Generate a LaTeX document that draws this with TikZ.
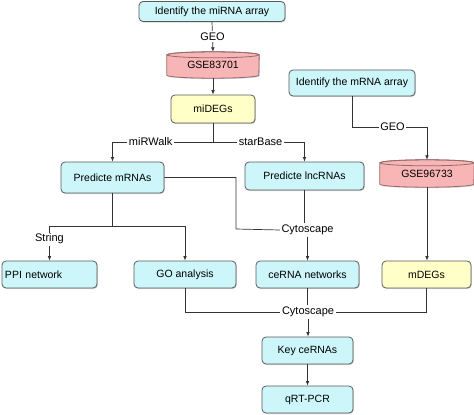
\documentclass[tikz,border=0pt]{standalone}
\usepackage{fontspec}
\setmainfont{Liberation Sans}
\usetikzlibrary{arrows.meta,shadows,backgrounds}
\definecolor{cyanfill}{HTML}{CCF6F9}
\definecolor{pinkfill}{HTML}{F8B5B5}
\definecolor{yellowfill}{HTML}{FFFFC8}
\definecolor{boxline}{HTML}{5A5A5A}
\definecolor{pinkline}{HTML}{9A6A6A}
\definecolor{conn}{HTML}{333333}
\tikzset{
  base/.style={rounded corners=4pt, draw=boxline, line width=0.8pt, font=\fontsize{10.5}{12}\selectfont, inner sep=3pt,
    drop shadow={shadow xshift=0.8pt, shadow yshift=-1pt, opacity=0.35}},
  cbox/.style={base, fill=cyanfill},
  ybox/.style={base, fill=yellowfill},
  cylnode/.style={font=\fontsize{10.5}{12}\selectfont, inner sep=0pt},
  cylbody/.style={fill=pinkfill, draw=pinkline, line width=0.8pt},
  lbl/.style={fill=white, inner sep=1.5pt, font=\fontsize{11}{13}\selectfont},
  conn/.style={draw=conn, line width=0.7pt},
  arr/.style={conn, -{Latex[length=4.5pt,width=3.6pt]}}
}
\begin{document}
\begin{tikzpicture}[x=1pt,y=-1pt]
\useasboundingbox (0,0) rectangle (474,415);
% nodes
\node[cbox, minimum width=146pt, minimum height=20pt] (arrMi) at (212,11.5) {Identify the miRNA array};
\node[cylnode, minimum width=92pt, minimum height=26pt] (g1) at (213,65) {GSE83701};
\node[ybox, minimum width=84pt, minimum height=28pt] (midegs) at (213,109) {miDEGs};
\node[cbox, minimum width=126pt, minimum height=26pt] (arrM) at (352,83) {Identify the mRNA array};
\node[cbox, minimum width=103pt, minimum height=31pt] (predM) at (112.5,177.5) {Predicte mRNAs};
\node[cbox, minimum width=119pt, minimum height=28pt] (predL) at (304.5,176) {Predicte lncRNAs};
\node[cylnode, minimum width=94pt, minimum height=27pt] (g2) at (427,173.5) {GSE96733};
\node[cbox, minimum width=95pt, minimum height=27pt, text width=89pt, align=left] (ppi) at (49.5,274.5) {PPI network};
\node[cbox, minimum width=102pt, minimum height=27pt] (go) at (185,274.5) {GO analysis};
\node[cbox, minimum width=103pt, minimum height=27pt] (cerna) at (307.5,274.5) {ceRNA networks};
\node[ybox, minimum width=89pt, minimum height=27pt] (mdegs) at (426.5,274.5) {mDEGs};
\node[cbox, minimum width=91pt, minimum height=27pt] (key) at (307.5,350.5) {Key ceRNAs};
\node[cbox, minimum width=91pt, minimum height=27pt] (qrt) at (307.5,399.5) {qRT-PCR};
% cylinders
\begin{scope}[on background layer]
\foreach \n/\r in {g1/46pt, g2/47pt}{
  \path[cylbody, drop shadow={shadow xshift=0.8pt, shadow yshift=-1pt, opacity=0.35}]
    ([yshift=-3pt]\n.north west) -- ([yshift=3pt]\n.south west)
    arc[start angle=180, end angle=360, x radius=\r, y radius=3pt]
    -- ([yshift=-3pt]\n.north east)
    arc[start angle=0, end angle=180, x radius=\r, y radius=3pt] -- cycle;
  \draw[pinkline, line width=0.8pt] ([yshift=-3pt]\n.north) ellipse [x radius=\r, y radius=3pt];
}
\end{scope}
% label nodes
\node[lbl] (cy1) at (307.5,230) {Cytoscape};
\node[lbl] (cy2) at (308,312) {Cytoscape};
\coordinate (j1) at (213,142);
\coordinate (j2) at (112.5,226);
\coordinate (j3) at (427,127);
\coordinate (c1) at (236,229);
% connectors
\draw[arr] (arrMi.south) -- node[lbl] {GEO} (g1.north);
\draw[arr] (g1.south) -- (midegs.north);
\draw[conn] (midegs.south) -- (j1);
\draw[arr] (j1) -| node[lbl, pos=0.31] {miRWalk} (predM.north);
\draw[arr] (j1) -| node[lbl, pos=0.26] {starBase} (predL.north);
\draw[conn] (predM.east) -| (c1) -- (cy1.west);
\draw[conn] (predL.south) -- (predL.south |- cy1.north);
\draw[arr] (cy1.south) -- (cerna.north);
\draw[conn] (predM.south) -- (j2);
\draw[arr] (j2) -| node[lbl, pos=0.69] {String} (ppi.north);
\draw[arr] (j2) -| (go.north);
\draw[conn] (arrM.south) |- node[lbl, pos=0.77] {GEO} (j3);
\draw[arr] (j3) -- (g2.north);
\draw[arr] (g2.south) -- (g2.south |- mdegs.north);
\draw[conn] (go.south) |- (cy2.west);
\draw[conn] (mdegs.south) |- (cy2.east);
\draw[conn] (cerna.south) -- (cerna.south |- cy2.north);
\draw[arr] (cy2.south) -- (cy2.south |- key.north);
\draw[arr] (key.south) -- (qrt.north);
\end{tikzpicture}
\end{document}
